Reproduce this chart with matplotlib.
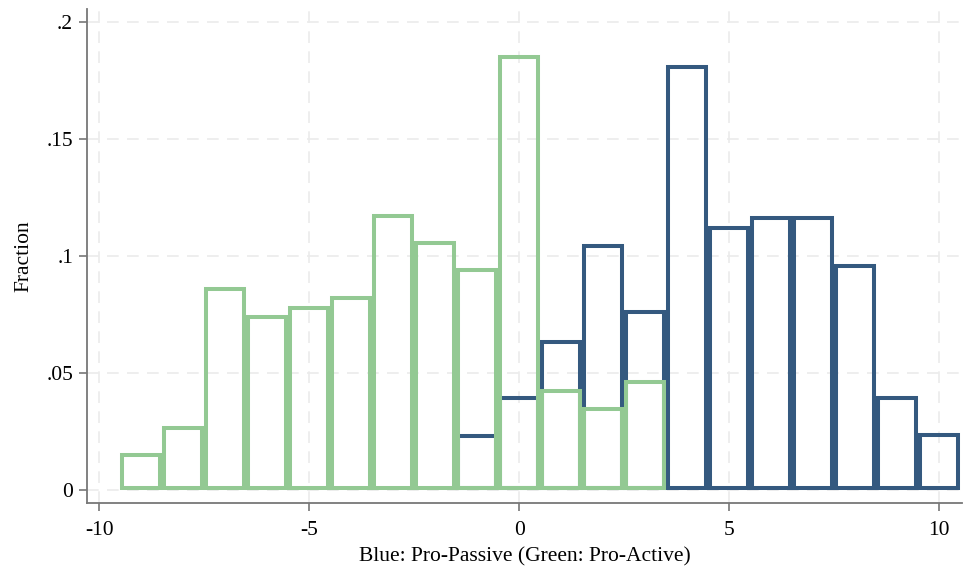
import matplotlib.pyplot as plt
import numpy as np

# histogram fractions (bin width 1, centred on integers)
green_x = [-9, -8, -7, -6, -5, -4, -3, -2, -1, 0, 1, 2, 3]
green_frac = [0.0158, 0.0274, 0.0866, 0.0748, 0.0788, 0.0828, 0.1182,
              0.1066, 0.0947, 0.1859, 0.0432, 0.0353, 0.0472]

blue_x = [-1, 0, 1, 2, 3, 4, 5, 6, 7, 8, 9, 10]
blue_frac = [0.0239, 0.0402, 0.0640, 0.1051, 0.0769, 0.1816, 0.1128,
             0.1172, 0.1172, 0.0966, 0.0403, 0.0242]

xticks = [-10, -5, 0, 5, 10]
yticks = [0, 0.05, 0.1, 0.15, 0.2]
ytick_labels = ['0', '.05', '.1', '.15', '.2']

green = '#93c993'
blue = '#34597f'

plt.rcParams['font.family'] = ['Liberation Serif', 'DejaVu Serif']
plt.rcParams['axes.unicode_minus'] = False

fig = plt.figure(figsize=(9.64, 5.70), dpi=100)
ax = fig.add_axes([0.0902, 0.1175, 0.908, 0.8665])

xlim = (-10.29, 10.55)
ylim = (-0.0056, 0.2056)
ax.set_xlim(*xlim)
ax.set_ylim(*ylim)

# Stata draws the outline inside each bar, so shrink the rectangles by half a line
lw = 2.9  # points
ax_w_px = 0.908 * 964
ax_h_px = 0.8665 * 570
half_px = lw * 100 / 72 / 2
dx = half_px * (xlim[1] - xlim[0]) / ax_w_px
dy = half_px * (ylim[1] - ylim[0]) / ax_h_px


def outline_hist(xs, fr, color, z):
    fr = np.array(fr)
    ax.bar(xs, fr - 2 * dy, width=1 - 2 * dx, bottom=dy, fill=False,
           edgecolor=color, linewidth=lw, zorder=z)


outline_hist(blue_x, blue_frac, blue, 3)
outline_hist(green_x, green_frac, green, 4)

ax.set_xticks(xticks)
ax.set_xticklabels([str(t) for t in xticks])
ax.set_yticks(yticks)
ax.set_yticklabels(ytick_labels)
ax.grid(True, color='#ebebeb', linestyle=(0, (7, 5)), linewidth=1.2, zorder=0)
ax.set_axisbelow(True)

for s in ['top', 'right']:
    ax.spines[s].set_visible(False)
for s in ['left', 'bottom']:
    ax.spines[s].set_color('#777777')
    ax.spines[s].set_linewidth(1.3)
ax.tick_params(axis='both', length=6, width=1.2, color='#777777',
               labelsize=15.5, pad=4)
ax.tick_params(axis='x', pad=7)

ax.set_xlabel('Blue: Pro-Passive (Green: Pro-Active)', fontsize=15.5, labelpad=5)
ax.set_ylabel('Fraction', fontsize=15.5, labelpad=9)

fig.savefig('out.png', dpi=100)
